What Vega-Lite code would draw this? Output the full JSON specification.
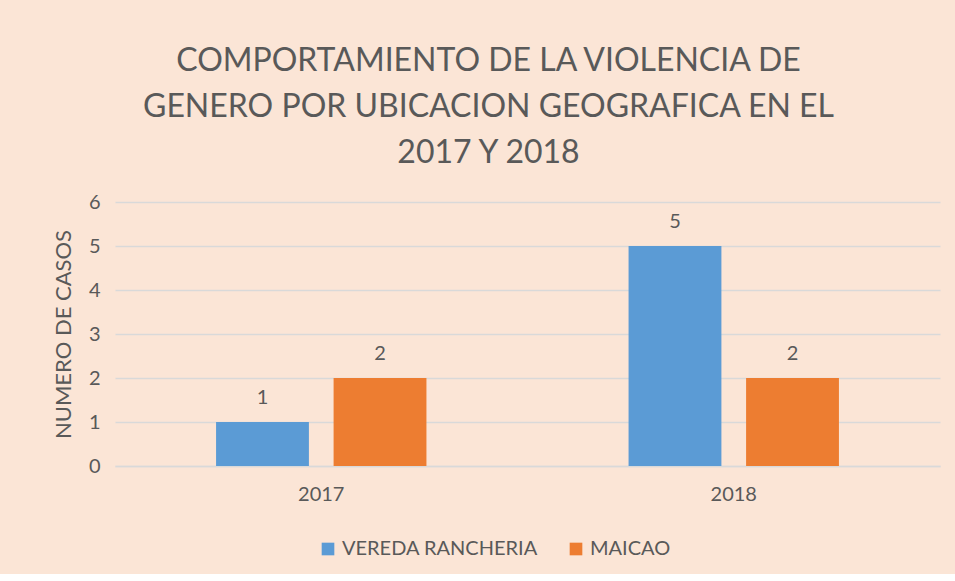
{
  "$schema": "https://vega.github.io/schema/vega-lite/v6.json",
  "width": 825,
  "height": 264,
  "padding": {"left": 52, "top": 45, "right": 15, "bottom": 15},
  "background": "#FBE5D6",
  "title": {
    "text": ["COMPORTAMIENTO DE LA VIOLENCIA DE", "GENERO POR UBICACION GEOGRAFICA EN EL", "2017 Y 2018"],
    "font": "Lato",
    "fontSize": 32,
    "fontWeight": "normal",
    "color": "#595959",
    "lineHeight": 46,
    "anchor": "middle",
    "dx": -39,
    "offset": 22
  },
  "data": {
    "values": [
      {"year": "2017", "ubicacion": "VEREDA RANCHERIA", "casos": 1},
      {"year": "2017", "ubicacion": "MAICAO", "casos": 2},
      {"year": "2018", "ubicacion": "VEREDA RANCHERIA", "casos": 5},
      {"year": "2018", "ubicacion": "MAICAO", "casos": 2}
    ]
  },
  "config": {
    "view": {"stroke": null},
    "font": "Lato",
    "axis": {"labelFont": "Lato", "titleFont": "Lato", "labelColor": "#595959", "titleColor": "#595959"},
    "legend": {"labelFont": "Lato"}
  },
  "encoding": {
    "x": {
      "field": "year",
      "type": "nominal",
      "scale": {"paddingInner": 0.49, "paddingOuter": 0.245},
      "axis": {"title": null, "labelAngle": 0, "labelFontSize": 20, "labelPadding": 18, "ticks": false, "domain": true, "domainColor": "#D9D9D9", "domainWidth": 1.5, "grid": false}
    },
    "xOffset": {"field": "ubicacion", "type": "nominal", "sort": ["VEREDA RANCHERIA", "MAICAO"], "scale": {"paddingInner": 0.21}},
    "y": {
      "field": "casos",
      "type": "quantitative",
      "scale": {"domain": [0, 6]},
      "axis": {"title": "NUMERO DE CASOS", "titleFontSize": 22, "titleFontWeight": "normal", "titlePadding": 13, "labelFontSize": 20, "labelPadding": 15, "tickCount": 6, "ticks": false, "domain": false, "gridColor": "#D9D9D9", "gridWidth": 1.5}
    },
    "color": {
      "field": "ubicacion",
      "type": "nominal",
      "sort": ["VEREDA RANCHERIA", "MAICAO"],
      "scale": {"domain": ["VEREDA RANCHERIA", "MAICAO"], "range": ["#5B9BD5", "#ED7D31"]},
      "legend": {"orient": "none", "legendX": 203, "legendY": 337, "direction": "horizontal", "title": null, "symbolType": "square", "symbolSize": 160, "symbolStrokeWidth": 0, "labelFontSize": 20, "labelColor": "#595959", "labelLimit": 400, "columnPadding": 28}
    }
  },
  "layer": [
    {"mark": {"type": "bar"}},
    {"mark": {"type": "text", "dy": -24, "fontSize": 20}, "encoding": {"text": {"field": "casos", "type": "quantitative"}, "color": {"value": "#595959"}}}
  ]
}
